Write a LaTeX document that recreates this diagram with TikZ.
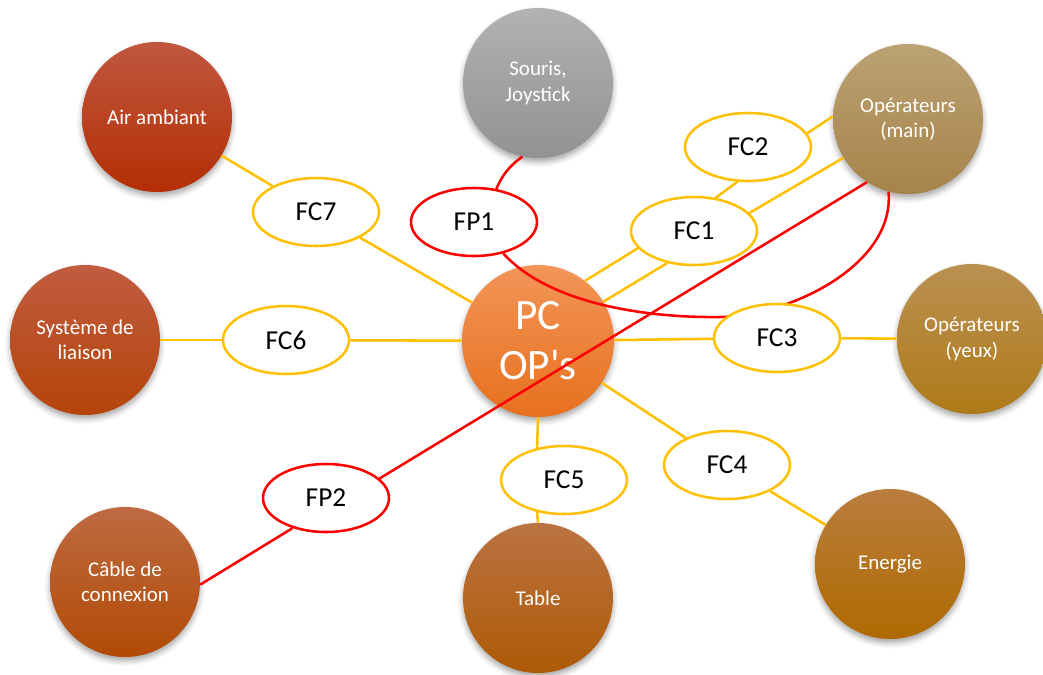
\documentclass[tikz,border=0pt]{standalone}
\usepackage{fontspec}
\setmainfont{Carlito}
\usetikzlibrary{shapes.geometric,shadows.blur}
\pgfdeclarelayer{disks}
\pgfdeclarelayer{links}
\pgfsetlayers{disks,links,main}

\definecolor{fcline}{HTML}{FFC000}
\definecolor{fpline}{HTML}{FF0000}
\definecolor{airT}{HTML}{C0573F}\definecolor{airB}{HTML}{B42E04}
\definecolor{souT}{HTML}{B2B2B2}\definecolor{souB}{HTML}{929292}
\definecolor{opmT}{HTML}{BCA273}\definecolor{opmB}{HTML}{A6834A}
\definecolor{sysT}{HTML}{C05C40}\definecolor{sysB}{HTML}{B6440A}
\definecolor{opyT}{HTML}{BB9152}\definecolor{opyB}{HTML}{AE7A18}
\definecolor{cabT}{HTML}{BE6A42}\definecolor{cabB}{HTML}{B24A05}
\definecolor{tabT}{HTML}{BB7343}\definecolor{tabB}{HTML}{AE5A05}
\definecolor{eneT}{HTML}{B97D3E}\definecolor{eneB}{HTML}{AF6A00}
\definecolor{pcT}{HTML}{F29557}\definecolor{pcB}{HTML}{E8701E}

\tikzset{
  disk/.style 2 args={circle, minimum size=112.5pt, inner sep=0pt, align=center,
    text=white, font=\fontsize{15.75}{19}\selectfont,
    top color=#1, bottom color=#2,
    blur shadow={shadow xshift=0pt, shadow yshift=-3pt, shadow blur radius=4pt, shadow opacity=35}},
  fcbox/.style={ellipse, draw=fcline, line width=1.9pt, fill=white,
    minimum width=94.5pt, minimum height=51pt, inner sep=0pt,
    font=\fontsize{20.5}{24}\selectfont},
  fpbox/.style={fcbox, draw=fpline},
  fclink/.style={draw=fcline, line width=1.9pt},
  fplink/.style={draw=fpline, line width=1.9pt},
}

\begin{document}
\begin{tikzpicture}[x=0.75pt, y=-0.75pt]
\useasboundingbox (0,0) rectangle (1043,675);

% outer elements and the central system
\begin{pgfonlayer}{disks}
\node[disk={airT}{airB}] (air) at (157,117) {Air ambiant};
\node[disk={souT}{souB}] (sou) at (538,83)  {Souris,\\Joystick};
\node[disk={opmT}{opmB}] (opm) at (908,119) {Opérateurs\\(main)};
\node[disk={sysT}{sysB}] (sys) at (85,340)  {Système de\\liaison};
\node[disk={opyT}{opyB}] (opy) at (972,339) {Opérateurs\\(yeux)};
\node[disk={cabT}{cabB}] (cab) at (125,582) {Câble de\\connexion};
\node[disk={tabT}{tabB}] (tab) at (538,598) {Table};
\node[disk={eneT}{eneB}] (ene) at (890,564) {Energie};
\node[disk={pcT}{pcB}, minimum size=114pt, font=\fontsize{32.5}{37.5}\selectfont]
  (pc) at (538,341) {PC\\OP\textquotesingle s};
\end{pgfonlayer}

% functions
\node[fcbox] (fc7) at (316,212) {FC7};
\node[fpbox] (fp1) at (474,222) {FP1};
\node[fcbox] (fc2) at (748,147) {FC2};
\node[fcbox] (fc1) at (694,231) {FC1};
\node[fcbox] (fc6) at (286,340) {FC6};
\node[fcbox] (fc3) at (777,338) {FC3};
\node[fcbox] (fc4) at (727,465) {FC4};
\node[fcbox] (fc5) at (564,480) {FC5};
\node[fpbox] (fp2) at (326,498) {FP2};

% links
\begin{pgfonlayer}{links}
\draw[fclink] (air) -- (fc7);
\draw[fclink] (fc7) -- (pc);
\draw[fclink] (sys) -- (fc6);
\draw[fclink] (fc6) -- (pc);
\draw[fclink] (pc) -- (fc3);
\draw[fclink] (fc3) -- (opy);
\draw[fclink] (pc) -- (fc4);
\draw[fclink] (fc4) -- (ene);
\draw[fclink] (pc.south) -- (fc5.130);
\draw[fclink] (fc5.-130) -- (tab.north);
\draw[fclink] (pc.52) -- (fc1.-163);
\draw[fclink] (pc.31) -- (fc1.-130);
\draw[fclink] (fc1.57) -- (fc2.-107);
\draw[fclink] (fc2.13) -- (opm.178);
\draw[fclink] (fc1.18) -- (opm.-149);

\draw[fplink] (sou.-102) to[bend right=15] (fp1.56);
\draw[fplink] (fp1.-47) .. controls (550,305) and (650,318) .. (720,317)
  .. controls (790,316) and (895,265) .. (opm.-105);
\draw[fplink] (cab.-2) -- (fp2.-138);
\draw[fplink] (fp2.20) -- (opm.-123);
\end{pgfonlayer}
\end{tikzpicture}
\end{document}
